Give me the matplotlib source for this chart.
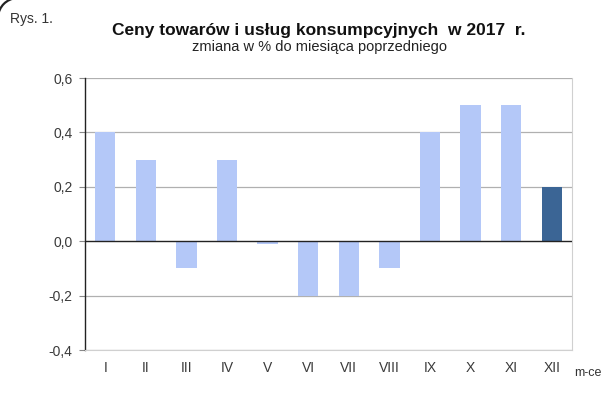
import matplotlib
matplotlib.use("Agg")
import matplotlib.pyplot as plt
from matplotlib.patches import Arc

months = ["I", "II", "III", "IV", "V", "VI", "VII", "VIII", "IX", "X", "XI", "XII"]
values = [0.4, 0.3, -0.1, 0.3, -0.01, -0.2, -0.2, -0.1, 0.4, 0.5, 0.5, 0.2]
yticks = [-0.4, -0.2, 0.0, 0.2, 0.4, 0.6]
ytick_labels = ["-0,4", "-0,2", "0,0", "0,2", "0,4", "0,6"]

plt.rcParams['font.family'] = ['Liberation Sans', 'DejaVu Sans']

fig = plt.figure(figsize=(6.08, 4.08), dpi=100)
fig.patch.set_facecolor('white')

# small dark arc at top-left corner
arc = Arc((18/100, (408-18)/100), 0.40, 0.40, theta1=95, theta2=175,
          transform=fig.dpi_scale_trans, edgecolor='#222222', linewidth=1.6)
fig.patches.append(arc)

ax = fig.add_axes([85/608, 1-350/408, (572-85)/608, (350-78)/408])
x = list(range(len(months)))
colors = ['#b4c8f8'] * (len(months) - 1) + ['#3b6595']
ax.bar(x, values, width=0.5, color=colors, zorder=3)

ax.set_ylim(-0.4, 0.6)
ax.set_xlim(-0.5, len(months) - 0.5)
ax.set_yticks(yticks)
ax.set_yticklabels(ytick_labels, fontsize=10, color='#3a3a3a')
ax.set_xticks(x)
ax.set_xticklabels(months, fontsize=10, color='#3a3a3a')
ax.tick_params(axis='x', length=0, pad=8)
ax.tick_params(axis='y', length=4, color='#888888', direction='out', pad=5)

for yv in yticks:
    if yv != 0.0:
        ax.axhline(yv, color='#b0b0b0', linewidth=0.9, zorder=1)
ax.axhline(0.0, color='#222222', linewidth=1.0, zorder=4)

ax.spines['left'].set_color('#222222')
ax.spines['left'].set_linewidth(1.0)
ax.spines['bottom'].set_color('#d0d0d0')
ax.spines['right'].set_color('#d0d0d0')
ax.spines['top'].set_visible(False)

fig.text(10/608, 1-19/408, "Rys. 1.", fontsize=10, color='#333333', va='center', ha='left')
fig.text(319/608, 1-30/408, "Ceny towarów i usług konsumpcyjnych  w 2017  r.", fontsize=12.5,
         fontweight='bold', color='#111111', ha='center', va='center')
fig.text(319/608, 1-47/408, "zmiana w % do miesiąca poprzedniego", fontsize=10.5,
         color='#222222', ha='center', va='center')
fig.text(588/608, 1-373/408, "m-ce", fontsize=9, color='#333333', ha='center', va='center')

fig.savefig("out.png", dpi=100)
